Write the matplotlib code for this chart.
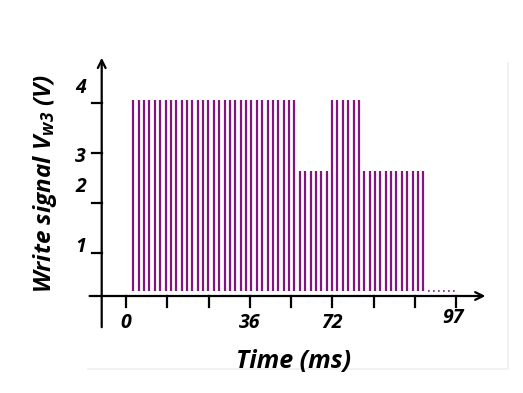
import numpy as np
import matplotlib.pyplot as plt

# time axis is drawn in tick divisions (9 ticks), labels are irregular as in the original
tick_pos = [0, 1, 2, 3, 4, 5, 6, 7, 8]
tick_labels = ['0', '36', '72', '97']
tick_label_pos = [0, 3, 5, 8]

# write pulse train: levels (V, plot units) and how many pulses at each level
levels = [4.06, 2.64, 4.06, 2.64]
counts = [31, 6, 6, 12]
pulse_start = 0.177
pulse_period = 0.1302
pulse_base = 0.24
idle_start = 7.31
idle_end = 8.0

ylevels = [1, 2, 3, 4]
ylabels = ['1', '2', '3', '4']
ylabel_y = [1.13, 2.33, 2.93, 4.3]

amps = np.repeat(levels, counts)
t = pulse_start + pulse_period * np.arange(len(amps))

plt.rcParams['font.family'] = ['Open Sans', 'DejaVu Sans']
plt.rcParams['mathtext.fontset'] = 'custom'
plt.rcParams['mathtext.it'] = 'Open Sans:italic:bold'
plt.rcParams['mathtext.rm'] = 'Open Sans:italic:bold'

fig = plt.figure(figsize=(5.23, 3.93), dpi=100)
ax = fig.add_axes([0, 0, 1, 1])
ax.set_xlim(-3.0545, 9.624)
ax.set_ylim(-1.8, 6.06)

# faint frame edge (bottom / right) seen in the original image
ax.plot([0.168, 0.971, 0.971], [0.061, 0.061, 0.84], color='#efefef', lw=1.2,
        transform=ax.transAxes)

purple = '#82167f'
ax.vlines(t, pulse_base, amps, color=purple, lw=1.6)
ax.plot([idle_start, idle_end], [pulse_base, pulse_base], color=purple, lw=1.2, ls=(0, (1, 2)))

# axes drawn as arrows crossing each other
for s in ['top', 'right', 'left', 'bottom']:
    ax.spines[s].set_visible(False)
ax.annotate('', xy=(8.78, 0.14), xytext=(-0.95, 0.14),
            arrowprops=dict(arrowstyle='->', color='black', lw=1.6, mutation_scale=14))
ax.annotate('', xy=(-0.589, 4.96), xytext=(-0.589, -0.54),
            arrowprops=dict(arrowstyle='->', color='black', lw=1.6, mutation_scale=14))

for x in tick_pos:
    ax.plot([x, x], [0.14, -0.08], color='black', lw=1.6)
for y in ylevels:
    ax.plot([-0.589, -0.83], [y, y], color='black', lw=1.6)

ax.set_xticks([])
ax.set_yticks([])

font = dict(fontweight='bold', fontstyle='italic')
for x, lab in zip(tick_label_pos, tick_labels):
    dy = 0.1 if lab == '97' else 0
    dx = -0.08 if lab == '97' else 0
    ax.text(x + dx, -0.4 + dy, lab, ha='center', va='center', fontsize=14, **font)
for y, lab in zip(ylabel_y, ylabels):
    ax.text(-1.1, y, lab, ha='center', va='center', fontsize=14, **font)

ax.text(4.05, -1.3, 'Time (ms)', ha='center', va='baseline', fontsize=18, **font)
ax.text(-1.96, 2.4, r'Write signal V$_{w3}$ (V)', rotation=90,
        ha='center', va='center', fontsize=17.5, **font)

fig.savefig('out.png', dpi=100)
